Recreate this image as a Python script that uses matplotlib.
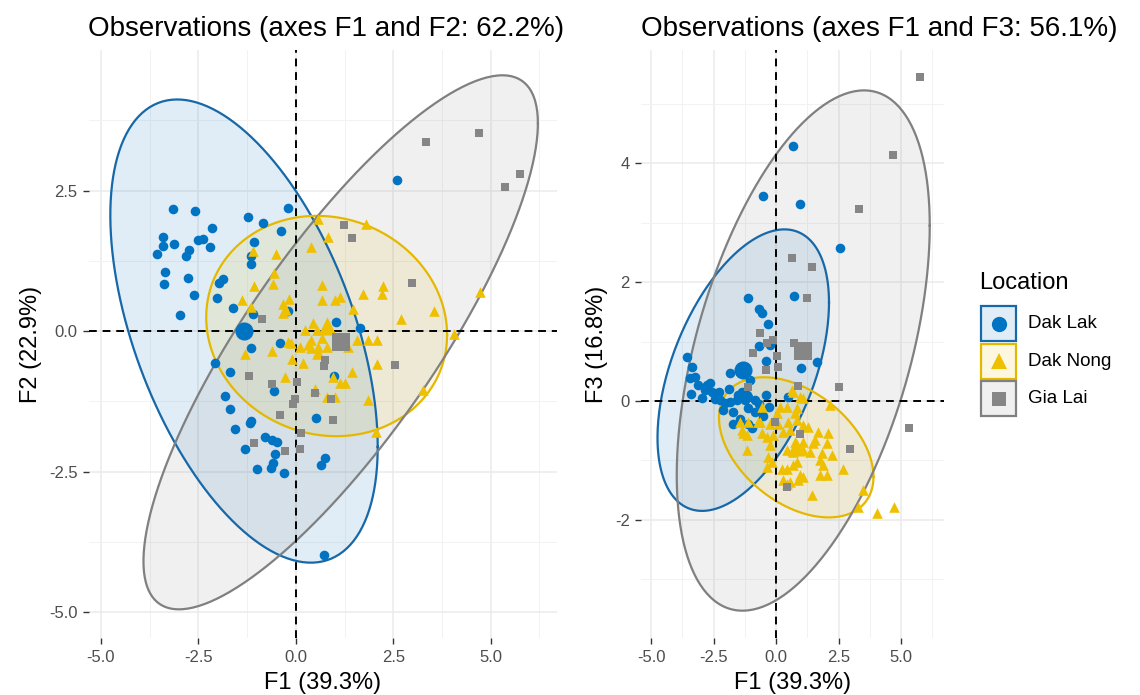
import numpy as np
import matplotlib.pyplot as plt
from matplotlib.patches import Rectangle

plt.rcParams['font.family'] = ['Liberation Sans', 'DejaVu Sans']

groups = ['Dak Lak', 'Dak Nong', 'Gia Lai']
colors = ['#0073C2', '#EFC000', '#868686']
edge_colors = ['#1768A8', '#E5B800', '#808080']
markers = ['o', '^', 's']

# observations, axes F1 / F2
lak12 = [(-3.16, 2.17), (-2.59, 2.14), (-1.22, 2.03), (-0.85, 1.92), (-0.21, 2.19), (-2.15, 1.84),
         (-0.39, 1.78), (-3.40, 1.67), (-3.13, 1.55), (-3.40, 1.51), (-2.52, 1.62), (-2.38, 1.63),
         (-2.19, 1.50), (-2.74, 1.44), (-2.82, 1.33), (-3.55, 1.37), (-1.07, 1.58), (-1.16, 1.33),
         (-1.14, 1.19), (-3.35, 1.05), (-3.39, 0.84), (-2.76, 0.95), (-2.62, 0.65), (-1.88, 0.93),
         (-1.97, 0.85), (-2.02, 0.59), (-1.62, 0.41), (-1.11, 0.30), (-2.97, 0.28), (-0.20, 0.36),
         (-0.40, -0.22), (1.03, 0.17), (1.64, 0.05), (-1.14, -0.31), (-2.08, -0.56), (-1.69, -0.72),
         (-0.56, -1.06), (-1.82, -1.16), (-1.69, -1.39), (-1.14, -1.60), (-1.18, -1.63), (-1.56, -1.74),
         (-0.79, -1.89), (-0.62, -1.93), (-0.48, -1.97), (0.51, -1.54), (0.97, -0.80), (-1.31, -2.10),
         (-0.54, -2.19), (-0.58, -2.35), (-0.65, -2.43), (-1.00, -2.45), (-0.30, -2.53), (0.76, -2.25),
         (0.65, -2.38), (0.73, -3.99), (2.59, 2.68)]
nong12 = [(-1.11, 1.42), (-0.51, 1.37), (-0.56, 1.03), (-0.58, 0.84), (-1.07, 0.80), (-1.38, 0.56),
          (-1.16, 0.42), (-0.33, 0.49), (-0.34, 0.33), (-0.17, 0.57), (0.57, 1.99), (1.81, 1.90),
          (0.83, 1.68), (0.40, 1.50), (0.68, 0.82), (0.66, 0.55), (1.00, 0.55), (1.13, 0.61),
          (1.71, 0.66), (2.24, 0.80), (2.21, 0.66), (1.47, 0.39), (2.71, 0.21), (3.54, 0.36),
          (4.05, -0.06), (4.72, 0.70), (0.44, 0.14), (0.23, 0.02), (0.53, 0.02), (-0.20, -0.19),
          (-0.13, -0.22), (0.10, -0.28), (0.32, -0.25), (0.40, -0.31), (0.57, -0.28), (0.79, -0.28),
          (1.34, -0.28), (1.57, -0.15), (1.85, -0.15), (2.07, -0.15), (-1.31, -0.41), (-0.62, -0.35),
          (0.55, -0.41), (-0.11, -0.50), (0.19, -0.56), (2.07, -0.59), (1.43, -0.73), (-0.28, -0.81),
          (0.96, -0.82), (1.13, -0.92), (1.27, -0.92), (0.49, -1.03), (0.79, -1.17), (1.00, -1.17),
          (1.85, -1.23), (3.25, -1.05), (2.05, -1.80), (0.66, -0.13), (0.40, -0.16), (0.57, -0.37),
          (-0.26, 0.37)]
gia12 = [(3.33, 3.37), (4.69, 3.53), (5.76, 2.79), (5.36, 2.57), (1.24, 1.89), (1.45, 1.65),
         (2.98, 0.86), (-0.86, 0.22), (2.54, -0.60), (0.74, -0.52), (0.72, -0.62), (-1.21, -0.80),
         (-0.62, -0.94), (0.04, -0.90), (-0.03, -1.20), (-0.07, -1.29), (-0.41, -1.49), (0.96, -1.58),
         (0.12, -1.81), (-1.08, -2.00), (-0.27, -2.14), (0.10, -2.10), (0.49, -1.11), (0.91, -1.20)]

# observations, axes F1 / F3
lak13 = [(0.69, 4.30), (-0.51, 3.46), (0.95, 3.32), (2.56, 2.58), (-1.13, 1.73), (0.73, 1.76),
         (-0.68, 1.55), (-0.57, 1.48), (-0.33, 1.29), (-0.67, 0.92), (-0.24, 0.94), (-0.41, 0.68),
         (1.01, 0.56), (1.65, 0.66), (-3.57, 0.74), (-3.37, 0.58), (-3.44, 0.38), (-3.24, 0.41),
         (-3.11, 0.27), (-2.77, 0.27), (-2.64, 0.30), (-2.84, 0.19), (-2.57, 0.16), (-3.41, 0.12),
         (-2.97, 0.05), (-2.44, 0.03), (-2.24, 0.02), (-1.84, 0.48), (-1.51, 0.10), (-1.17, 0.10),
         (-1.04, 0.35), (-2.04, -0.04), (-1.84, -0.01), (-1.57, 0.02), (-1.24, 0.02), (-0.84, 0.02),
         (-2.11, -0.15), (-1.71, -0.18), (-1.11, -0.12), (-0.84, -0.18), (-1.71, -0.38), (-1.11, -0.38),
         (-0.53, -0.26), (-0.41, 0.10), (-0.27, -0.10), (0.49, 0.07), (-1.37, 0.16), (-1.11, 0.07),
         (-0.95, -0.45), (-1.45, -0.30), (-2.30, 0.15), (-1.90, 0.20), (-0.70, -0.05)]
nong13 = [(0.63, 0.19), (1.09, 0.05), (2.16, -0.07), (-0.57, -0.10), (0.16, -0.10), (0.43, -0.10),
          (0.83, -0.12), (0.03, -0.21), (0.76, -0.21), (-1.44, -0.35), (-1.11, -0.35),
          (-0.64, -0.35), (-0.24, -0.38), (0.09, -0.38), (0.49, -0.35), (0.83, -0.32), (1.09, -0.40),
          (1.29, -0.43), (-1.31, -0.54), (-1.17, -0.57), (-0.57, -0.54), (-0.37, -0.60), (-0.11, -0.57),
          (0.29, -0.52), (0.56, -0.49), (1.69, -0.52), (2.09, -0.54), (-1.17, -0.83), (-0.24, -0.74),
          (0.76, -0.69), (0.83, -0.74), (1.09, -0.69), (1.49, -0.71), (1.56, -0.66), (2.03, -0.71),
          (0.43, -0.83), (0.69, -0.85), (1.09, -0.83), (1.36, -0.85), (1.83, -0.88), (2.23, -0.91),
          (-0.31, -0.94), (-0.17, -1.02), (1.76, -0.99), (1.89, -1.08), (-0.37, -1.11), (0.23, -1.14),
          (0.43, -1.14), (0.69, -1.08), (0.83, -1.02), (0.96, -1.25), (1.09, -1.28), (1.76, -1.25),
          (2.03, -1.25), (2.69, -1.14), (0.29, -1.33), (0.56, -1.36), (0.43, -1.39), (0.89, -1.33),
          (1.43, -1.59), (3.49, -1.49), (3.29, -1.78), (4.03, -1.89), (4.72, -1.78), (-0.71, -0.35),
          (-1.37, -0.49), (0.69, 0.16), (0.96, 0.07)]
gia13 = [(5.76, 5.46), (4.69, 4.15), (3.32, 3.24), (0.65, 2.40), (1.44, 2.26), (1.23, 1.74),
         (-0.64, 1.15), (-0.91, 0.81), (-0.37, 0.98), (-0.11, 1.02), (0.73, 0.98), (0.03, 0.75),
         (0.09, 0.58), (-0.41, 0.53), (-1.11, 0.24), (0.89, 0.25), (2.52, 0.24), (5.33, -0.45),
         (2.96, -0.80), (0.43, -1.45), (-0.05, -0.35), (0.95, -0.55), (-1.20, 0.45)]

# group means (centres)
means12 = [(-1.33, 0.00), (0.79, 0.09), (1.15, -0.20)]
means13 = [(-1.31, 0.52), (0.81, -0.78), (1.09, 0.85)]
# concentration ellipses: half-range on x, half-range on y, correlation
ell12 = [(3.43, 4.12, -0.50), (3.09, 1.96, -0.08), (5.06, 4.75, 0.82)]
ell13 = [(3.43, 2.37, 0.48), (3.09, 1.18, -0.42), (5.06, 4.38, 0.48)]

W, H = 1140, 695
fig = plt.figure(figsize=(W / 100, H / 100), dpi=100)

small_size = {'o': 48, '^': 58, 's': 40}


def draw_panel(ax, pts, means, ells, xlim, ylim, yticks, ylabels, yminor, title, ylab):
    ax.set_xlim(xlim)
    ax.set_ylim(ylim)
    for v in [-5, -2.5, 0, 2.5, 5]:
        ax.axvline(v, color='#EBEBEB', lw=1.1, zorder=0)
    for v in [-3.75, -1.25, 1.25, 3.75, 6.25]:
        ax.axvline(v, color='#F2F2F2', lw=0.7, zorder=0)
    for v in yticks:
        ax.axhline(v, color='#EBEBEB', lw=1.1, zorder=0)
    for v in yminor:
        ax.axhline(v, color='#F2F2F2', lw=0.7, zorder=0)

    t = np.linspace(0, 2 * np.pi, 300)
    for (cx, cy), (sx, sy, r), c, ec in zip(means, ells, colors, edge_colors):
        ex = cx + sx * np.cos(t)
        ey = cy + sy * (r * np.cos(t) + np.sqrt(1 - r * r) * np.sin(t))
        ax.fill(ex, ey, color=c, alpha=0.12, lw=0, zorder=1)
        ax.plot(ex, ey, color=ec, lw=1.6, zorder=2)

    ax.axhline(0, color='black', lw=1.4, ls=(0, (4, 3)), zorder=3)
    ax.axvline(0, color='black', lw=1.4, ls=(0, (4, 3)), zorder=3)

    for p, c, m in zip(pts, colors, markers):
        p = np.array(p)
        ax.scatter(p[:, 0], p[:, 1], s=small_size[m], c=c, marker=m, linewidths=0, zorder=4)
    for (cx, cy), c, m in zip(means, colors, markers):
        ax.scatter([cx], [cy], s=170, c=c, marker=m, linewidths=0, zorder=5)

    for sp in ax.spines.values():
        sp.set_visible(False)
    ax.set_xticks([-5, -2.5, 0, 2.5, 5])
    ax.set_xticklabels(['-5.0', '-2.5', '0.0', '2.5', '5.0'])
    ax.set_yticks(yticks)
    ax.set_yticklabels(ylabels)
    ax.tick_params(length=4, width=1, color='#333333', labelcolor='#4D4D4D', labelsize=12, pad=5)
    ax.tick_params(axis='y', pad=4)
    ax.set_xlabel('F1 (39.3%)', fontsize=17, labelpad=5)
    ax.set_ylabel(ylab, fontsize=17, labelpad=5)
    ax.set_title(title, fontsize=20, loc='left', pad=10)


ax1 = fig.add_axes([88.5 / W, 57 / H, 468.5 / W, 588 / H])
draw_panel(ax1, [lak12, nong12, gia12], means12, ell12, (-5.32, 6.70), (-5.46, 5.0),
           [-5, -2.5, 0, 2.5], ['-5.0', '-2.5', '0.0', '2.5'], [-3.75, -1.25, 1.25, 3.75],
           'Observations (axes F1 and F2: 62.2%)', 'F2 (22.9%)')

ax2 = fig.add_axes([641 / W, 57 / H, 303 / W, 588 / H])
draw_panel(ax2, [lak13, nong13, gia13], means13, ell13, (-5.40, 6.72), (-3.99, 5.91),
           [-2, 0, 2, 4], ['-2', '0', '2', '4'], [-3, -1, 1, 3, 5],
           'Observations (axes F1 and F3: 56.1%)', 'F3 (16.8%)')

# legend
lg = fig.add_axes([0, 0, 1, 1])
lg.set_xlim(0, W)
lg.set_ylim(H, 0)
lg.axis('off')
lg.text(979, 283, 'Location', fontsize=17, va='center', ha='left')
for i, (g, c, ec, m) in enumerate(zip(groups, colors, edge_colors, markers)):
    y0 = 306 + i * 37.5
    lg.add_patch(Rectangle((981, y0), 35, 35, facecolor=c, alpha=0.12, lw=0))
    lg.add_patch(Rectangle((981, y0), 35, 35, facecolor='none', edgecolor=ec, lw=1.6))
    lg.plot([998.5], [y0 + 17.5], marker=m, color=c, ms=11 if m != 's' else 9.5, mew=0)
    lg.text(1028, y0 + 17.5, g, fontsize=13.5, va='center', ha='left')

fig.savefig('out.png', dpi=100)
